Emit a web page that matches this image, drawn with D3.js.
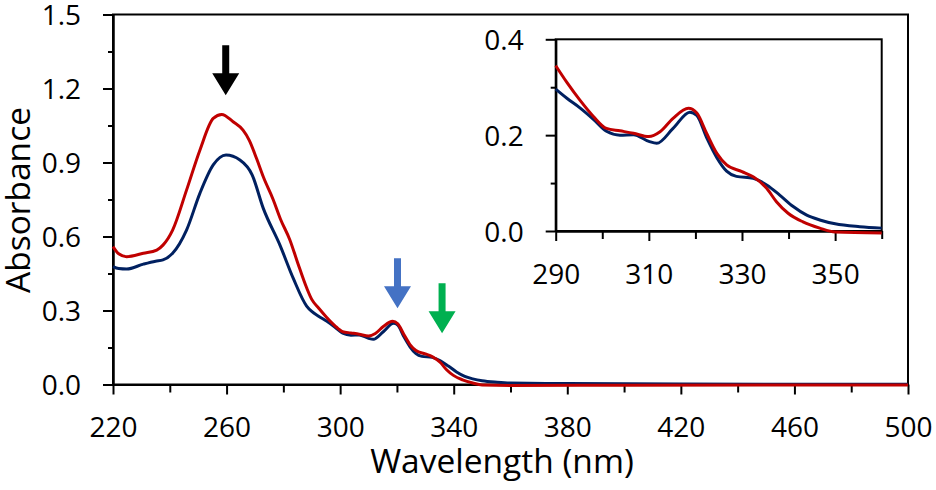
<!DOCTYPE html>
<html lang="en">
<head>
  <meta charset="UTF-8">
  <title>Absorbance spectra</title>
  <script src="https://d3js.org/d3.v7.min.js"></script>
  <style>
    body { margin: 0; padding: 0; background: #fff; }
    svg { display: block; }
    .axis path, .axis line { stroke: #000; stroke-width: 2px; }
    .axis text { font-family: "Open Sans", sans-serif; font-size: 28px; fill: #000; }
    .title { font-family: "Open Sans", sans-serif; font-size: 33.5px; fill: #000; }
  </style>
</head>
<body>
  <div id="chart"></div>

  <script>
    // spectra: [wavelength (nm), absorbance]
    const redSpectrum = [
      [220, 0.559], [222, 0.530], [224.8, 0.518], [230.7, 0.532], [235.4, 0.545],
      [237.6, 0.565], [241, 0.626], [245.9, 0.788], [250.6, 0.950], [255.3, 1.079],
      [258.3, 1.095], [262.3, 1.065], [265.8, 1.031], [268, 0.990], [270.6, 0.915],
      [273, 0.840], [276.4, 0.750], [279, 0.670], [282.3, 0.586], [285, 0.495],
      [288.2, 0.392], [290, 0.345], [292.4, 0.310], [295.2, 0.273], [298.1, 0.239],
      [300.9, 0.214], [303.8, 0.209], [306.7, 0.204], [310, 0.197], [312.4, 0.207],
      [315.2, 0.235], [318.5, 0.256], [320.3, 0.246], [322.4, 0.204], [324.6, 0.162],
      [326.7, 0.138], [330, 0.124], [332.4, 0.113], [335.3, 0.089], [337.4, 0.061],
      [339.9, 0.037], [343.1, 0.019], [346.7, 0.006], [350, -0.002], [360, -0.004],
      [400, -0.003], [500, -0.002]
    ];
    const blueSpectrum = [
      [220, 0.478], [222, 0.470], [224.8, 0.468], [230.7, 0.488], [235, 0.500],
      [237.6, 0.505], [241, 0.532], [245.9, 0.626], [250.6, 0.775], [255.3, 0.890],
      [259.8, 0.930], [264.7, 0.910], [269, 0.850], [272.9, 0.715], [278.8, 0.565],
      [283.5, 0.430], [288.2, 0.318], [290, 0.296], [292.4, 0.277], [295.2, 0.257],
      [298.1, 0.233], [300.9, 0.208], [303.8, 0.200], [306.7, 0.201], [310, 0.187],
      [311.7, 0.183], [315.2, 0.214], [318.8, 0.248], [320.3, 0.241], [322.4, 0.195],
      [324.6, 0.153], [326.7, 0.125], [328.8, 0.114], [332.4, 0.110], [335.3, 0.096],
      [338.1, 0.075], [341, 0.051], [343.9, 0.033], [346.7, 0.023], [350, 0.015],
      [355.3, 0.009], [360, 0.006], [380, 0.004], [420, 0.002], [500, 0.001]
    ];
    const seriesColors = ["#C00000", "#002060"];

    const mainXTicks = [220, 260, 300, 340, 380, 420, 460, 500];
    const mainXMinor = [240, 280, 320, 360, 400, 440, 480];
    const mainYTicks = [0, 0.3, 0.6, 0.9, 1.2, 1.5];
    const mainYMinor = [0.15, 0.45, 0.75, 1.05, 1.35];

    const insetXTicks = [290, 310, 330, 350];
    const insetXMinor = [300, 320, 340, 360];
    const insetYTicks = [0, 0.2, 0.4];
    const insetYMinor = [0.1, 0.3];

    // arrow tips: [wavelength, absorbance, colour]
    const arrows = [
      [259.7, 1.173, "#000000"],
      [320.2, 0.309, "#4472C4"],
      [335.9, 0.208, "#00B050"]
    ];

    const width = 936, height = 490;
    const svg = d3.select("#chart").append("svg")
      .attr("width", width).attr("height", height);

    const x = d3.scaleLinear().domain([220, 500]).range([113, 908]);
    const y = d3.scaleLinear().domain([0, 1.5]).range([384.5, 14.5]);
    const ix = d3.scaleLinear().domain([290, 360]).range([555.7, 881.7]);
    const iy = d3.scaleLinear().domain([0, 0.4]).range([231, 39.3]);

    function drawPanel(g, sx, sy, xt, xm, yt, ym, yfmt) {
      // frame
      g.append("rect")
        .attr("x", sx.range()[0]).attr("y", sy.range()[1])
        .attr("width", sx.range()[1] - sx.range()[0])
        .attr("height", sy.range()[0] - sy.range()[1])
        .attr("fill", "#fff").attr("stroke", "#000").attr("stroke-width", 2);

      const xAxisG = g.append("g").attr("class", "axis")
        .attr("transform", `translate(0,${sy.range()[0]})`);
      xAxisG.append("g").call(d3.axisBottom(sx).tickValues(xm).tickFormat("").tickSize(8).tickSizeOuter(0));
      xAxisG.append("g").call(d3.axisBottom(sx).tickValues(xt).tickFormat(d3.format("d")).tickSize(10).tickSizeOuter(0))
        .selectAll("text").attr("y", 52.5).attr("dy", 0);

      const yAxisG = g.append("g").attr("class", "axis")
        .attr("transform", `translate(${sx.range()[0]},0)`);
      yAxisG.append("g").call(d3.axisLeft(sy).tickValues(ym).tickFormat("").tickSize(5).tickSizeOuter(0));
      yAxisG.append("g").call(d3.axisLeft(sy).tickValues(yt).tickFormat(d3.format(yfmt)).tickSize(10).tickSizeOuter(0))
        .selectAll("text").attr("x", -32).attr("dy", "0.36em");

      g.selectAll(".axis").attr("font-family", null).attr("font-size", null);
    }

    function drawSpectra(g, sx, sy, domain) {
      const line = d3.line()
        .x(d => sx(d[0])).y(d => sy(d[1]))
        .curve(d3.curveMonotoneX);
      [blueSpectrum, redSpectrum].forEach((s, i) => {
        g.append("path")
          .attr("d", line(s.filter(d => d[0] >= domain[0] && d[0] <= domain[1])))
          .attr("fill", "none")
          .attr("stroke", seriesColors[1 - i])
          .attr("stroke-width", 3)
          .attr("stroke-linejoin", "round");
      });
    }

    const main = svg.append("g");
    drawPanel(main, x, y, mainXTicks, mainXMinor, mainYTicks, mainYMinor, ".1f");
    drawSpectra(main, x, y, [220, 500]);

    // arrows pointing at the bands
    main.selectAll(".arrow")
      .data(arrows)
      .enter().append("path")
      .attr("class", "arrow")
      .attr("fill", d => d[2])
      .attr("d", d => {
        const tx = x(d[0]), ty = y(d[1]);
        const shaft = 3.5, head = 13.5, headLen = 22, len = 50;
        return `M${tx},${ty} L${tx - head},${ty - headLen} L${tx - shaft},${ty - headLen}` +
          ` L${tx - shaft},${ty - len} L${tx + shaft},${ty - len} L${tx + shaft},${ty - headLen}` +
          ` L${tx + head},${ty - headLen} Z`;
      });

    const inset = svg.append("g");
    drawPanel(inset, ix, iy, insetXTicks, insetXMinor, insetYTicks, insetYMinor, ".1f");
    drawSpectra(inset, ix, iy, [290, 360]);

    // axis titles
    svg.append("text").attr("class", "title")
      .attr("x", 502).attr("y", 473)
      .attr("text-anchor", "middle")
      .text("Wavelength (nm)");

    svg.append("text").attr("class", "title")
      .attr("transform", "translate(30,200) rotate(-90)")
      .attr("text-anchor", "middle")
      .text("Absorbance");
  </script>
</body>
</html>
